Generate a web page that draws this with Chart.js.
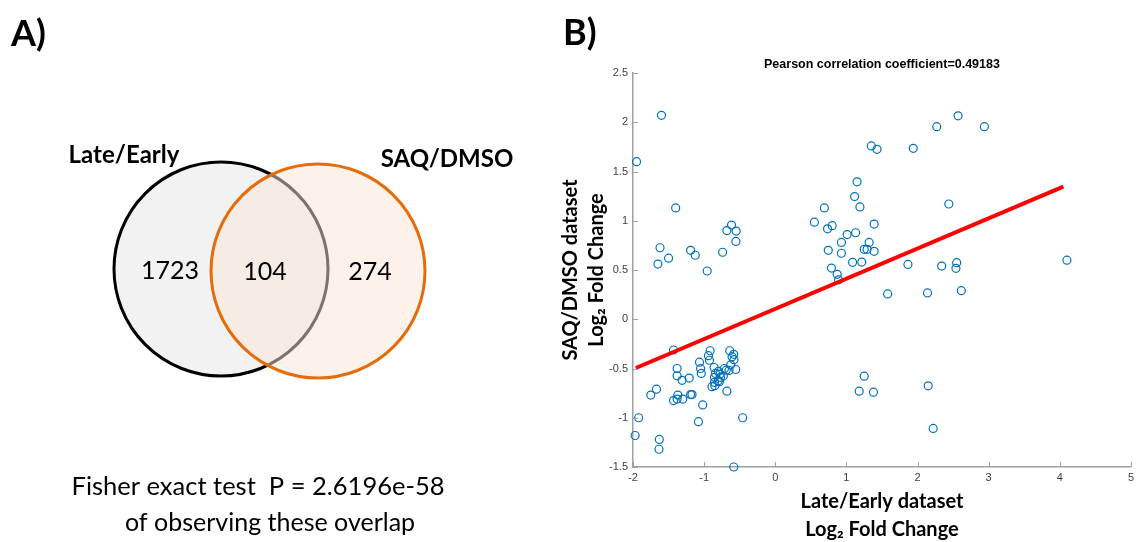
<!DOCTYPE html>
<html>
<head>
<meta charset="utf-8">
<script src="https://cdn.jsdelivr.net/npm/chart.js@4.4.1/dist/chart.umd.min.js"></script>
<style>
  html, body { margin: 0; padding: 0; background: #fff; }
  #wrap { position: relative; width: 1138px; height: 542px; overflow: hidden; }
  #venn { position: absolute; left: 0; top: 0; }
  #scatter { position: absolute; left: 555px; top: 0; }
</style>
</head>
<body>
<div id="wrap">
  <canvas id="venn" width="560" height="542"></canvas>
  <canvas id="scatter" width="583" height="544"></canvas>
</div>
<script>
// ---- data: panel A (Venn) ----
const setNames = ['Late/Early', 'SAQ/DMSO'];
const vennCounts = [1723, 104, 274];   // only left, overlap, only right
const fisherLines = ['Fisher exact test  P = 2.6196e-58', 'of observing these overlap'];

// ---- data: panel B (scatter) ----
const lateEarly = [
  -1.95, -1.60, -1.40, -0.615, -0.68, -0.55, 0.55, 0.69, 0.735, 0.80,
  1.01, 1.13, 1.115, 1.15, 1.19, 1.39, 1.35, 1.43, 1.94, 2.27,
  2.57, 2.94, 2.44,
  -1.62, -1.65, -1.50, -1.19, -1.125, -0.957, -0.74, -0.553, 0.93, 1.32,
  0.745, 0.93, 1.087, 1.216, 1.25, 1.29, 1.39, 0.79, 0.87, 0.89,
  1.865, 2.34, 2.55, 2.54, 4.10, 1.58, 2.14, 2.615,
  1.25, 1.18, 1.38, 2.15, 2.22,
  -1.43, -0.916, -0.64, -0.94, -0.584, -0.607, -0.58, -0.925, -1.065, -1.38,
  -1.05, -1.04, -0.86, -1.38, -1.31, -1.21, -0.626, -0.69, -0.715, -0.65,
  -0.556, -0.80, -0.84, -0.776, -0.855, -0.80, -0.77, -0.73, -0.855, -0.89,
  -0.85, -0.785, -0.68, -1.75, -1.67, -1.43, -1.37, -1.38, -1.30, -1.19,
  -1.17, -1.02, -1.08, -1.92, -1.97, -1.63, -1.635, -0.458, -0.584
];
const saqDmso = [
  1.60, 2.07, 1.13, 0.956, 0.90, 0.895, 0.986, 1.13, 0.918, 0.95,
  0.86, 0.878, 1.245, 1.395, 1.14, 0.966, 1.76, 1.725, 1.735, 1.955,
  2.065, 1.955, 1.17,
  0.726, 0.56, 0.62, 0.70, 0.65, 0.49, 0.68, 0.79, 0.78, 0.78,
  0.70, 0.67, 0.578, 0.58, 0.71, 0.71, 0.69, 0.52, 0.456, 0.40,
  0.557, 0.54, 0.574, 0.517, 0.60, 0.257, 0.267, 0.29,
  -0.578, -0.73, -0.74, -0.676, -1.108,
  -0.312, -0.32, -0.32, -0.37, -0.356, -0.38, -0.41, -0.416, -0.436, -0.50,
  -0.50, -0.55, -0.49, -0.574, -0.62, -0.597, -0.463, -0.517, -0.50, -0.52,
  -0.51, -0.53, -0.55, -0.557, -0.59, -0.624, -0.59, -0.577, -0.64, -0.685,
  -0.674, -0.634, -0.73, -0.77, -0.71, -0.826, -0.77, -0.81, -0.81, -0.765,
  -0.765, -0.87, -1.04, -1.00, -1.18, -1.22, -1.32, -1.00, -1.50
];
const fitX = [-1.96, 4.05];
const fitY = [-0.495, 1.346];
const xTickValues = [-2, -1, 0, 1, 2, 3, 4, 5];
const yTickValues = [-1.5, -1, -0.5, 0, 0.5, 1, 1.5, 2, 2.5];
const plotTitle = 'Pearson correlation coefficient=0.49183';
const xTitle = ['Late/Early dataset', 'Log\u2082 Fold Change'];
const yTitle = ['SAQ/DMSO dataset', 'Log\u2082 Fold Change'];

// ---- layout of the Venn panel (canvas pixels) ----
const vennGeom = { left: { x: 221, y: 269 }, right: { x: 318, y: 271 }, r: 107 };

const labelFont = 'Lato, "Open Sans", sans-serif';

// text of panel A
const vennText = {
  id: 'vennText',
  afterDatasetsDraw(chart) {
    const ctx = chart.ctx;
    ctx.save();
    ctx.fillStyle = '#000';
    ctx.textBaseline = 'alphabetic';
    ctx.textAlign = 'left';
    ctx.font = 'bold 36px ' + labelFont;
    ctx.fillText('A)', 11, 46);

    ctx.textAlign = 'center';
    ctx.font = 'bold 24px ' + labelFont;
    ctx.fillText(setNames[0], 124, 163);
    ctx.fillText(setNames[1], 447, 167);

    ctx.font = '25px ' + labelFont;
    ctx.fillText(String(vennCounts[0]), 170, 279);
    ctx.fillText(String(vennCounts[1]), 265, 280);
    ctx.fillText(String(vennCounts[2]), 370, 280);

    ctx.font = '25.5px ' + labelFont;
    ctx.fillText(fisherLines[0], 258, 495);
    ctx.font = '25px ' + labelFont;
    ctx.fillText(fisherLines[1], 270, 531);
    ctx.restore();
  }
};

new Chart(document.getElementById('venn'), {
  type: 'bubble',
  data: {
    datasets: [
      {
        label: setNames[0],
        data: [{ x: vennGeom.left.x, y: vennGeom.left.y, r: vennGeom.r }],
        backgroundColor: '#f2f2f2',
        borderColor: '#000000',
        borderWidth: 3,
        clip: false,
        order: 2
      },
      {
        label: setNames[1],
        data: [{ x: vennGeom.right.x, y: vennGeom.right.y, r: vennGeom.r }],
        backgroundColor: 'rgba(251,229,214,0.5)',
        borderColor: '#e46c0a',
        borderWidth: 3,
        clip: false,
        order: 1
      }
    ]
  },
  options: {
    responsive: false,
    animation: false,
    devicePixelRatio: 1,
    layout: { padding: 0, autoPadding: false },
    plugins: { legend: { display: false }, tooltip: { enabled: false } },
    scales: {
      x: { type: 'linear', min: 0, max: 560, display: false },
      y: { type: 'linear', min: 0, max: 542, reverse: true, display: false }
    },
    events: []
  },
  plugins: [vennText]
});

// ---- panel B ----
const axisColor = '#a0a0a0';

const innerTicks = {
  id: 'innerTicks',
  afterDraw(chart) {
    const { ctx, chartArea, scales: { x, y } } = chart;
    ctx.save();
    ctx.strokeStyle = axisColor;
    ctx.lineWidth = 1;
    ctx.beginPath();
    x.ticks.forEach(t => {
      const px = Math.round(x.getPixelForValue(t.value)) + 0.5;
      ctx.moveTo(px, chartArea.bottom);
      ctx.lineTo(px, chartArea.bottom - 5);
    });
    y.ticks.forEach(t => {
      const py = Math.round(y.getPixelForValue(t.value)) + 0.5;
      ctx.moveTo(chartArea.left, py);
      ctx.lineTo(chartArea.left + 5, py);
    });
    ctx.stroke();
    // panel letter
    ctx.fillStyle = '#000';
    ctx.textAlign = 'left';
    ctx.textBaseline = 'alphabetic';
    ctx.font = 'bold 36px ' + labelFont;
    ctx.fillText('B)', 8, 45);
    ctx.restore();
  }
};

const tickFont = { family: '"Liberation Sans", Arial, sans-serif', size: 11 };

new Chart(document.getElementById('scatter'), {
  data: {
    datasets: [
      {
        type: 'line',
        label: 'fit',
        data: fitX.map((v, i) => ({ x: v, y: fitY[i] })),
        borderColor: '#ff0000',
        borderWidth: 4,
        pointRadius: 0,
        fill: false,
        order: 0
      },
      {
        type: 'scatter',
        label: 'genes',
        data: lateEarly.map((v, i) => ({ x: v, y: saqDmso[i] })),
        pointStyle: 'circle',
        pointRadius: 4,
        borderWidth: 1.2,
        borderColor: '#0072bd',
        backgroundColor: 'rgba(0,0,0,0)',
        clip: false,
        order: 1
      }
    ]
  },
  options: {
    responsive: false,
    animation: false,
    devicePixelRatio: 1,
    events: [],
    layout: { padding: 0, autoPadding: false },
    plugins: {
      legend: { display: false },
      tooltip: { enabled: false },
      title: {
        display: true,
        fullSize: false,
        text: plotTitle,
        color: '#000',
        font: { family: '"Liberation Sans", Arial, sans-serif', size: 12.5, weight: 'bold' },
        padding: { top: 57, bottom: 1 }
      }
    },
    scales: {
      x: {
        type: 'linear',
        min: -2, max: 5,
        afterBuildTicks: s => { s.ticks = xTickValues.map(v => ({ value: v })); },
        afterFit: s => { s.height = 77; },
        ticks: { font: tickFont, color: '#404040', padding: 4, callback: v => String(v), maxRotation: 0 },
        grid: { display: false, drawTicks: false },
        border: { display: true, color: axisColor, width: 1.5 },
        title: {
          display: true,
          text: xTitle,
          color: '#000',
          font: { family: labelFont, size: 20, weight: 'bold', lineHeight: 1.4 },
          padding: { top: 0, bottom: 0 }
        }
      },
      y: {
        type: 'linear',
        min: -1.5, max: 2.5,
        afterBuildTicks: s => { s.ticks = yTickValues.map(v => ({ value: v })); },
        afterFit: s => { s.width = 78; },
        ticks: { font: tickFont, color: '#404040', padding: 5, callback: v => String(v) },
        grid: { display: false, drawTicks: false },
        border: { display: true, color: axisColor, width: 1.5 },
        title: {
          display: true,
          text: yTitle,
          color: '#000',
          font: { family: labelFont, size: 20, weight: 'bold', lineHeight: 1.3 },
          padding: { top: 3, bottom: 0 }
        }
      }
    }
  },
  plugins: [innerTicks]
});
</script>
</body>
</html>
